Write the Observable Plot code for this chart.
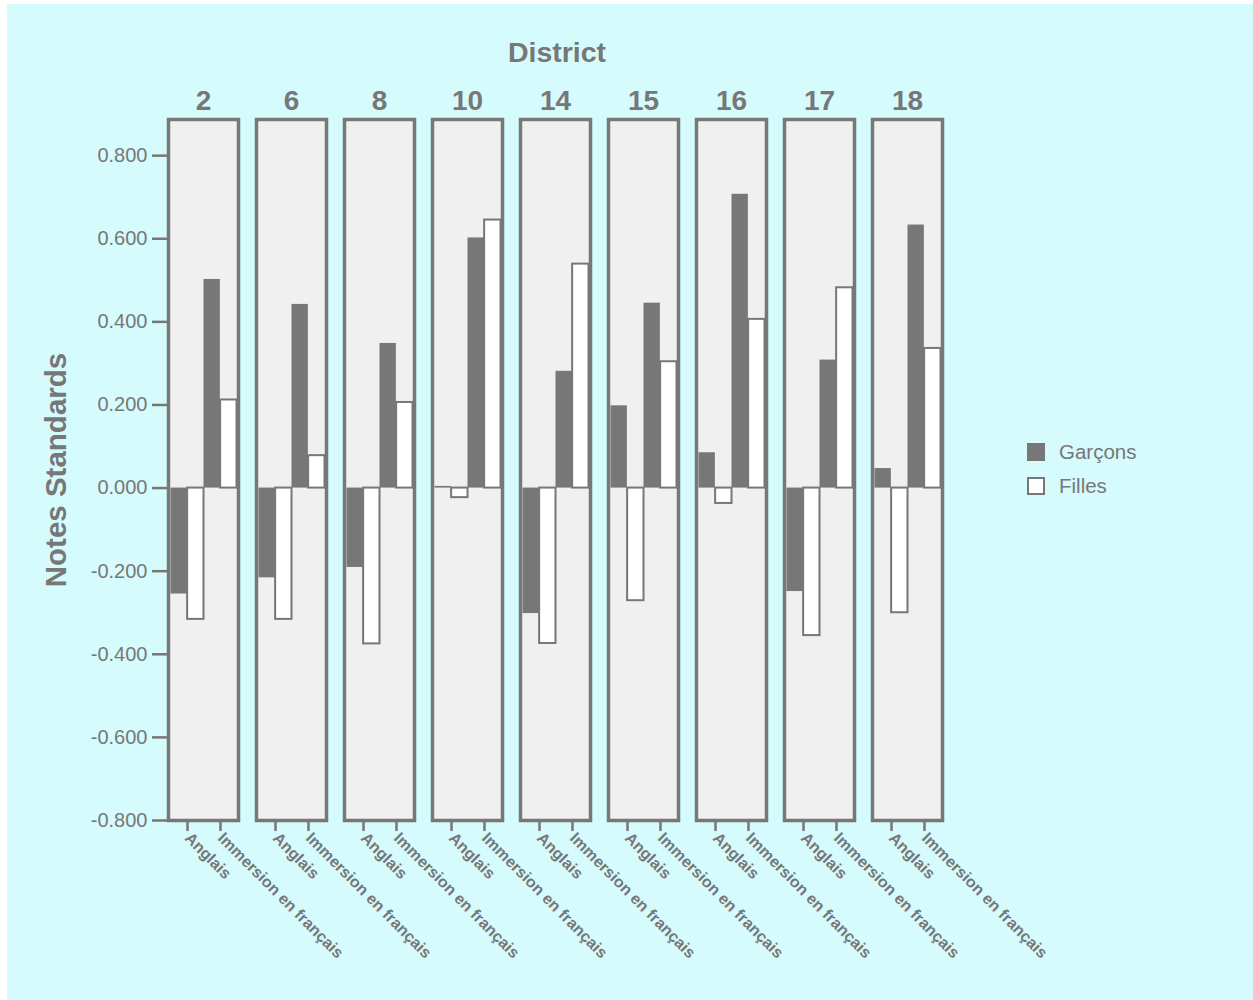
<!DOCTYPE html>
<html>
<head>
<meta charset="utf-8">
<script src="https://cdn.jsdelivr.net/npm/d3@7"></script>
<script src="https://cdn.jsdelivr.net/npm/@observablehq/plot@0.6"></script>
<style>
  html, body { margin: 0; padding: 0; background: #ffffff; }
  #wrap { position: absolute; left: 7px; top: 4px; width: 1246px; height: 996px; background: #d5fbfd; font-family: "Liberation Sans", Arial, sans-serif; color: #777; }
  #chart { position: absolute; left: 0; top: 0; }
  #title { position: absolute; left: 0; width: 1100px; top: 32px; text-align: center; font-size: 28.5px; font-weight: bold; }
  #ylabel { position: absolute; left: 49px; top: 466px; transform: translate(-50%, -50%) rotate(-90deg); font-size: 29.5px; font-weight: bold; white-space: nowrap; }
  #legend { position: absolute; left: 1020px; top: 431px; font-size: 20.5px; }
  .item { display: flex; align-items: center; height: 34px; }
  .sw { width: 18px; height: 18px; box-sizing: border-box; margin-right: 14px; }
</style>
</head>
<body>
<div id="wrap">
  <div id="title">District</div>
  <div id="ylabel">Notes Standards</div>
  <div id="chart"></div>
  <div id="legend"></div>
</div>
<script>
// ---- data ----
const districts = ["2", "6", "8", "10", "14", "15", "16", "17", "18"];
const programs = ["Anglais", "Immersion en français"];
const genders = ["Garçons", "Filles"];
const garconsAnglais   = [-0.255, -0.216, -0.191,  0.004, -0.302,  0.198,  0.085, -0.249,  0.047];
const fillesAnglais    = [-0.316, -0.316, -0.375, -0.023, -0.374, -0.271, -0.037, -0.355, -0.300];
const garconsImmersion = [ 0.502,  0.442,  0.348,  0.602,  0.281,  0.445,  0.707,  0.308,  0.633];
const fillesImmersion  = [ 0.212,  0.078,  0.206,  0.645,  0.539,  0.304,  0.406,  0.482,  0.336];
const yTicks = [-0.8, -0.6, -0.4, -0.2, 0, 0.2, 0.4, 0.6, 0.8];

const rows = [];
districts.forEach((d, i) => {
  rows.push({district: d, program: programs[0], gender: genders[0], value: garconsAnglais[i]});
  rows.push({district: d, program: programs[0], gender: genders[1], value: fillesAnglais[i]});
  rows.push({district: d, program: programs[1], gender: genders[0], value: garconsImmersion[i]});
  rows.push({district: d, program: programs[1], gender: genders[1], value: fillesImmersion[i]});
});

const W = 1246, H = 996;
const mL = 160.5, mR = 311, mT = 115, mB = 180;
const panelPadInner = 18 / 88;
const plotW = W - mL - mR;
const step = plotW / (districts.length - panelPadInner);
const panelW = step * (1 - panelPadInner);
const inL = 2, inR = 1.5;
const half = (panelW - inL - inR) / programs.length / 2;

const grey = "#777777";

const chart = Plot.plot({
  width: W,
  height: H,
  marginLeft: mL,
  marginRight: mR,
  marginTop: mT,
  marginBottom: mB,
  style: {background: "transparent", color: grey, fontFamily: "'Liberation Sans', Arial, sans-serif", overflow: "visible"},
  fx: {domain: districts, paddingInner: panelPadInner, paddingOuter: 0, label: null},
  x: {domain: programs, padding: 0, insetLeft: inL, insetRight: inR, label: null},
  y: {domain: [-0.8, 0.887], label: null},
  marks: [
    Plot.frame({fill: "#f0f0f0"}),
    Plot.barY(rows.filter(d => d.gender === genders[0]), {fx: "district", x: "program", y: "value", fill: grey, insetRight: half}),
    Plot.barY(rows.filter(d => d.gender === genders[1]), {fx: "district", x: "program", y: "value", fill: "#ffffff", stroke: grey, strokeWidth: 2, insetLeft: half}),
    Plot.frame({stroke: grey, strokeWidth: 3.5}),
    Plot.axisY({ticks: yTicks, tickFormat: d => d.toFixed(3), tickSize: 16, tickPadding: 5, fontSize: 20, color: grey, strokeWidth: 2.5, label: null}),
    Plot.axisX({tickRotate: 45, tickSize: 11, tickPadding: 4, fontSize: 16, fontWeight: "bold", color: grey, strokeWidth: 2.5, label: null}),
    Plot.axisFx({anchor: "top", tickSize: 0, tickPadding: 10, fontSize: 28, fontWeight: "bold", color: grey, label: null})
  ]
});
document.getElementById("chart").appendChild(chart);

// legend
const legend = document.getElementById("legend");
genders.forEach((g, i) => {
  const item = document.createElement("div");
  item.className = "item";
  const sw = document.createElement("div");
  sw.className = "sw";
  if (i === 0) { sw.style.background = grey; }
  else { sw.style.background = "#ffffff"; sw.style.border = "2px solid " + grey; }
  const t = document.createElement("span");
  t.textContent = g;
  item.appendChild(sw);
  item.appendChild(t);
  legend.appendChild(item);
});
</script>
</body>
</html>
